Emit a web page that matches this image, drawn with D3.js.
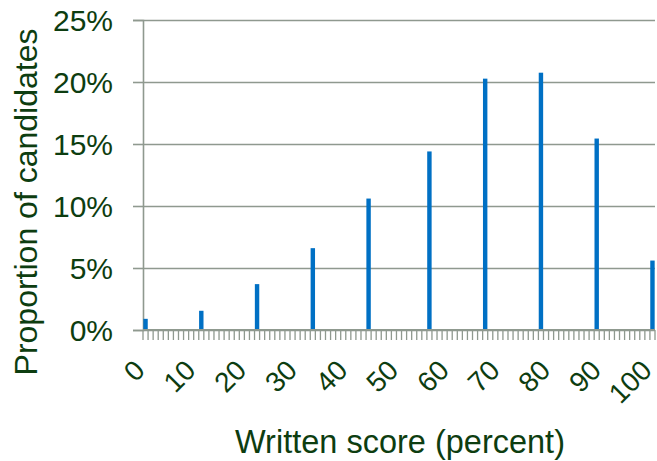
<!DOCTYPE html>
<html>
<head>
<meta charset="utf-8">
<script src="https://cdn.jsdelivr.net/npm/d3@7"></script>
<style>
  html, body { margin: 0; padding: 0; background: #fff; }
  svg { display: block; font-family: "Liberation Sans", Arial, sans-serif; }
</style>
</head>
<body>
<svg id="chart" width="657" height="461"></svg>
<script>
// Score categories 0..100 (one slot per percentage point)
const categories = d3.range(0, 101);
// Scores that were actually achieved (k/9 of the written paper, rounded)
const scores = [0, 11, 22, 33, 44, 56, 67, 78, 89, 100];
// Share of candidates at each score
const proportions = [0.009, 0.0155, 0.037, 0.066, 0.106, 0.144, 0.2027, 0.2075, 0.1544, 0.056];
const xTickLabels = [0, 10, 20, 30, 40, 50, 60, 70, 80, 90, 100];
const yTicks = [0, 0.05, 0.10, 0.15, 0.20, 0.25];

const textColor = "#0d3d10";
const gridColor = "#8f998f";
const barColor = "#0070c4";

const svg = d3.select("#chart");
const margin = { left: 143, right: 2, top: 20, bottom: 131 };
const W = 657, H = 461;

const x = d3.scaleBand()
  .domain(categories)
  .range([margin.left, W - margin.right])
  .paddingInner(0.05)
  .paddingOuter(0.025);

const y = d3.scaleLinear()
  .domain([0, 0.25])
  .range([H - margin.bottom, margin.top]);

// Horizontal gridlines
svg.append("g")
  .attr("transform", `translate(${margin.left},0)`)
  .call(d3.axisLeft(y)
    .tickValues(yTicks)
    .tickSize(-(W - margin.right - margin.left))
    .tickFormat(""))
  .call(g => g.select(".domain").remove())
  .call(g => g.selectAll(".tick line")
    .attr("stroke", gridColor).attr("stroke-width", 1.6));

// Value axis with short outer ticks and percent labels
svg.append("g")
  .attr("transform", `translate(${margin.left},0)`)
  .call(d3.axisLeft(y)
    .tickValues(yTicks)
    .tickSize(10)
    .tickPadding(20)
    .tickFormat(d3.format(".0%")))
  .call(g => g.select(".domain").attr("stroke", gridColor).attr("stroke-width", 1.6))
  .call(g => g.selectAll(".tick line").attr("stroke", gridColor).attr("stroke-width", 1.6))
  .call(g => g.selectAll(".tick text")
    .attr("fill", textColor)
    .style("font-size", "30px")
    .attr("dy", "0.36em"));

// Bars
svg.append("g")
  .selectAll("rect")
  .data(scores.map((s, i) => ({ s, v: proportions[i] })))
  .join("rect")
  .attr("x", d => x(d.s) + 0.2)
  .attr("width", x.bandwidth() - 0.4)
  .attr("y", d => y(d.v))
  .attr("height", d => y(0) - y(d.v))
  .attr("fill", barColor);

// Category boundary ticks below the baseline
const boundaries = categories.map(c => x(c) - x.step() * x.paddingInner() / 2)
  .concat([x(100) + x.bandwidth() + x.step() * x.paddingInner() / 2]);
svg.append("g")
  .selectAll("line")
  .data(boundaries)
  .join("line")
  .attr("x1", d => d).attr("x2", d => d)
  .attr("y1", y(0)).attr("y2", y(0) + 10)
  .attr("stroke", gridColor)
  .attr("stroke-width", 1.3);

// Baseline
svg.append("line")
  .attr("x1", margin.left).attr("x2", W - margin.right)
  .attr("y1", y(0)).attr("y2", y(0))
  .attr("stroke", gridColor).attr("stroke-width", 1.8);

// Rotated score labels
svg.append("g")
  .selectAll("text")
  .data(xTickLabels)
  .join("text")
  .attr("transform", d => `translate(${x(d) + x.bandwidth() / 2 - 13},${y(0) + 28}) rotate(-45)`)
  .attr("text-anchor", "end")
  .attr("dy", "0.71em")
  .attr("fill", textColor)
  .style("font-size", "28px")
  .text(d => d);

// Axis titles
svg.append("text")
  .attr("x", 400).attr("y", 453)
  .attr("text-anchor", "middle")
  .attr("fill", textColor)
  .style("font-size", "32.5px")
  .text("Written score (percent)");

svg.append("text")
  .attr("transform", `translate(37,202) rotate(-90)`)
  .attr("text-anchor", "middle")
  .attr("fill", textColor)
  .style("font-size", "32px")
  .text("Proportion of candidates");
</script>
</body>
</html>
